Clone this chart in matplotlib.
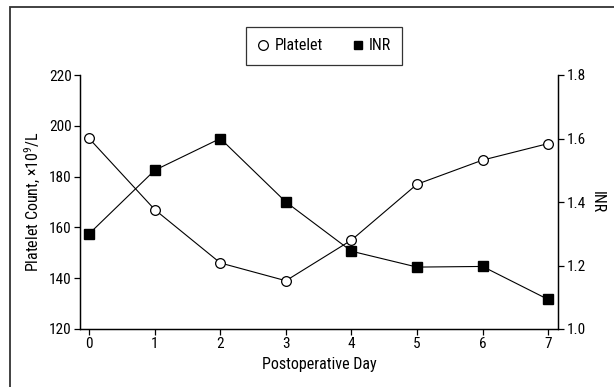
import matplotlib.pyplot as plt
from matplotlib.patches import Rectangle
from matplotlib.lines import Line2D

plt.rcParams['font.family'] = ['Roboto Condensed', 'Archivo Narrow', 'DejaVu Sans']
plt.rcParams['font.size'] = 11
plt.rcParams['mathtext.fontset'] = 'custom'
plt.rcParams['mathtext.rm'] = 'Roboto Condensed'

days = [0, 1, 2, 3, 4, 5, 6, 7]
platelet = [195, 167, 146, 139, 155, 177, 186.5, 193]
inr = [1.30, 1.50, 1.60, 1.40, 1.245, 1.195, 1.197, 1.093]

fig = plt.figure(figsize=(6.14, 3.87), dpi=100)
ax = fig.add_axes([80/614, 1-329/387, (558-80)/614, (329-75)/387])
ax2 = ax.twinx()

ax.plot(days, platelet, color='black', lw=0.8, marker='o', ms=7,
        mfc='white', mec='black', mew=0.9, zorder=3)
ax2.plot(days, inr, color='black', lw=0.8, marker='s', ms=6.5,
         mfc='black', mec='black', zorder=3)

ax.set_xlim(-0.14, 7.15)
ax.set_ylim(120, 220)
ax2.set_ylim(1.0, 1.8)
ax.set_xticks(days)
ax.set_yticks([120, 140, 160, 180, 200, 220])
ax2.set_yticks([1.0, 1.2, 1.4, 1.6, 1.8])

for a in (ax, ax2):
    a.spines['top'].set_visible(False)
    for s in a.spines.values():
        s.set_linewidth(0.9)
    a.tick_params(direction='out', length=4, width=0.9, pad=2, labelsize=11)

ax.set_xlabel('Postoperative Day', fontsize=11.5, labelpad=4)
ax.set_ylabel('Platelet Count, \u00d710$^{9}$/L', fontsize=11.5, labelpad=4)
ax2.set_ylabel('INR', fontsize=11.5, rotation=-90, labelpad=14)

handles = [
    Line2D([], [], ls='none', marker='o', ms=7, mfc='white', mec='black', mew=0.9),
    Line2D([], [], ls='none', marker='s', ms=6, mfc='black', mec='black'),
]
leg = fig.legend(handles, ['Platelet', 'INR'], loc='center',
                 bbox_to_anchor=(324/614, 1-46/387), ncol=2, frameon=True,
                 fancybox=False, edgecolor='black', handlelength=0.8,
                 handletextpad=0.3, columnspacing=1.8, borderpad=0.7,
                 fontsize=11.5)
leg.get_frame().set_linewidth(0.9)

fig.patches.append(Rectangle((10/614, -0.1), 1.2, 1 - 7/387 + 0.1,
                             transform=fig.transFigure, fill=False,
                             edgecolor='#333333', lw=1.3))

fig.savefig('out.png', dpi=100)
